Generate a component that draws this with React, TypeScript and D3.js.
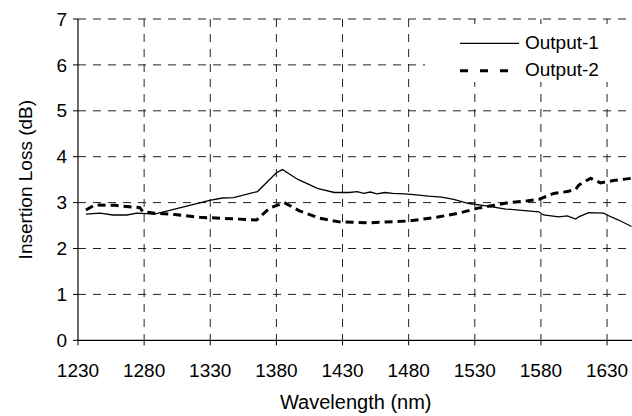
import React from "react";
import * as d3 from "d3";

const xTicks = [1230, 1280, 1330, 1380, 1430, 1480, 1530, 1580, 1630];
const yTicks = [0, 1, 2, 3, 4, 5, 6, 7];

const out1Wl = [1236, 1246.6, 1256.4, 1267, 1274.5, 1288, 1329.5, 1339.3, 1347.6, 1365.7, 1380, 1384.6, 1395.9, 1411, 1423.8, 1435, 1441, 1446, 1451, 1456, 1462, 1468, 1477, 1486, 1495, 1505, 1514, 1525.6, 1538.4, 1553.5, 1578.4, 1582, 1593.5, 1600, 1606.3, 1608.6, 1616, 1627.4, 1630, 1638.7, 1648.5];
const out1Val = [2.75, 2.77, 2.73, 2.73, 2.77, 2.75, 3.05, 3.1, 3.11, 3.24, 3.65, 3.72, 3.51, 3.31, 3.22, 3.22, 3.24, 3.2, 3.23, 3.19, 3.22, 3.2, 3.19, 3.17, 3.14, 3.12, 3.07, 2.98, 2.93, 2.86, 2.8, 2.73, 2.69, 2.71, 2.64, 2.69, 2.78, 2.77, 2.73, 2.62, 2.48];

const out2Wl = [1236, 1242.8, 1257.9, 1276.8, 1279, 1288, 1303, 1322, 1352, 1365, 1374.8, 1386, 1397.4, 1412.5, 1427.6, 1450, 1480.4, 1503, 1518, 1532.4, 1545, 1555.8, 1570, 1578.4, 1589.7, 1600, 1606.3, 1608.6, 1617.6, 1625, 1634.9, 1648.5];
const out2Val = [2.84, 2.95, 2.94, 2.89, 2.8, 2.77, 2.74, 2.68, 2.64, 2.62, 2.88, 3.0, 2.82, 2.66, 2.58, 2.56, 2.6, 2.69, 2.77, 2.88, 2.94, 3.0, 3.04, 3.07, 3.2, 3.24, 3.29, 3.38, 3.53, 3.43, 3.48, 3.53];

const seriesNames = ["Output-1", "Output-2"];

const X0 = 78, X1 = 633.5, Y0 = 340.3, Y1 = 19;
const FONT = "Liberation Sans, Arial, sans-serif";

export default function App() {
  const x = d3.scaleLinear().domain([1230, 1650]).range([X0, X1]);
  const y = d3.scaleLinear().domain([0, 7]).range([Y0, Y1]);
  const line = d3
    .line<[number, number]>()
    .x((d) => x(d[0]))
    .y((d) => y(d[1]));
  const d1 = line(out1Wl.map((w, i) => [w, out1Val[i]] as [number, number])) || "";
  const d2 = line(out2Wl.map((w, i) => [w, out2Val[i]] as [number, number])) || "";

  return (
    <svg
      width={632}
      height={416}
      style={{ position: "absolute", left: 0, top: 0, display: "block", background: "#fff" }}
      fontFamily={FONT}
    >
      <defs>
        <clipPath id="plot">
          <rect x={X0} y={Y1 - 5} width={X1 - X0} height={Y0 - Y1 + 5} />
        </clipPath>
      </defs>
      {/* horizontal grid */}
      {yTicks.map((t) => (
        <g key={"h" + t}>
          {t > 0 && (
            <line x1={X0} x2={632} y1={y(t)} y2={y(t)} stroke="#222" strokeWidth={1} strokeDasharray="8,7" />
          )}
          <line x1={X0 - 5} x2={X0} y1={y(t)} y2={y(t)} stroke="#000" />
          <text x={67} y={y(t)} dy="0.35em" textAnchor="end" fontSize={19} fill="#000">
            {t}
          </text>
        </g>
      ))}
      {/* vertical grid */}
      {xTicks.map((t) => (
        <g key={"v" + t}>
          {t > 1230 && (
            <line x1={x(t)} x2={x(t)} y1={Y1} y2={Y0} stroke="#222" strokeWidth={1} strokeDasharray="8,7" />
          )}
          <line x1={x(t)} x2={x(t)} y1={Y0} y2={Y0 + 5} stroke="#000" />
          <text x={x(t)} y={376.5} textAnchor="middle" fontSize={19} fill="#000">
            {t}
          </text>
        </g>
      ))}
      {/* legend background */}
      <rect x={425} y={24} width={220} height={58} fill="#fff" />
      {/* axes */}
      <line x1={X0} x2={X0} y1={Y1} y2={Y0} stroke="#000" strokeWidth={1.2} />
      <line x1={X0} x2={632} y1={Y0} y2={Y0} stroke="#000" strokeWidth={1.2} />
      {/* series */}
      <g clipPath="url(#plot)">
        <path d={d1} fill="none" stroke="#000" strokeWidth={1.3} />
        <path d={d2} fill="none" stroke="#000" strokeWidth={3} strokeDasharray="8,5" />
      </g>
      {/* legend */}
      <line x1={460} x2={519} y1={43.3} y2={43.3} stroke="#000" strokeWidth={1.3} />
      <text x={525} y={48.5} fontSize={19} fill="#000">{seriesNames[0]}</text>
      <line x1={460} x2={519} y1={70.7} y2={70.7} stroke="#000" strokeWidth={3} strokeDasharray="8,12" />
      <text x={525} y={76} fontSize={19} fill="#000">{seriesNames[1]}</text>
      {/* axis titles */}
      <text x={(X0 + X1) / 2} y={409} textAnchor="middle" fontSize={20} fill="#000">
        Wavelength (nm)
      </text>
      <text transform={`translate(31.5, ${(Y0 + Y1) / 2}) rotate(-90)`} textAnchor="middle" fontSize={19} fill="#000">
        Insertion Loss (dB)
      </text>
    </svg>
  );
}
